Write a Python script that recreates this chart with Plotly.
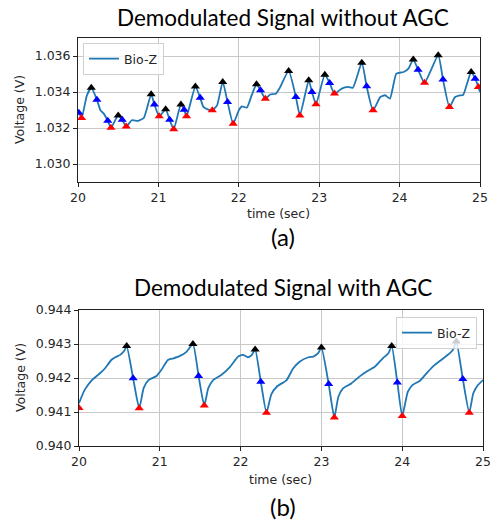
import plotly.graph_objects as go

# (a) without AGC - traced line
t_a = [20.00, 20.01, 20.045, 20.11, 20.165, 20.235, 20.28, 20.32, 20.37, 20.41, 20.50, 20.55, 20.60,
       20.67, 20.75, 20.82, 20.91, 20.95, 21.01, 21.09, 21.14, 21.19, 21.28, 21.32, 21.35, 21.46,
       21.52, 21.56, 21.62, 21.67, 21.73, 21.80, 21.86, 21.93, 22.00, 22.04, 22.10, 22.16, 22.22,
       22.27, 22.33, 22.39, 22.46, 22.51, 22.62, 22.71, 22.76, 22.87, 22.91, 22.96, 23.07, 23.13,
       23.19, 23.28, 23.36, 23.42, 23.53, 23.59, 23.67, 23.76, 23.82, 23.88, 23.96, 24.05, 24.11,
       24.17, 24.23, 24.31, 24.48, 24.54, 24.62, 24.69, 24.75, 24.79, 24.89, 24.94, 24.98, 25.00]
v_a = [1.0328, 1.03285, 1.03256, 1.0338, 1.03424, 1.03357, 1.03298, 1.0328, 1.0324, 1.03202, 1.0327,
       1.03246, 1.03209, 1.03243, 1.0324, 1.03257, 1.03387, 1.03331, 1.03265, 1.03304, 1.03246,
       1.03193, 1.03331, 1.03302, 1.03265, 1.0343, 1.03368, 1.03317, 1.03302, 1.03298, 1.03326,
       1.03456, 1.03344, 1.03224, 1.03298, 1.0332, 1.03313, 1.03381, 1.03443, 1.0341, 1.03363,
       1.03386, 1.0339, 1.03423, 1.03517, 1.03372, 1.0327, 1.03465, 1.034, 1.03332, 1.03496, 1.0345,
       1.03391, 1.03419, 1.03428, 1.03424, 1.03563, 1.03432, 1.03298, 1.03372, 1.03382, 1.03363,
       1.03502, 1.03511, 1.0353, 1.0358, 1.03524, 1.03452, 1.03604, 1.03469, 1.03317, 1.03372,
       1.03381, 1.03383, 1.03511, 1.03474, 1.03428, 1.0340]

peak_t_a = [20.165, 20.50, 20.91, 21.09, 21.28, 21.46, 21.80, 22.22, 22.62, 22.87, 23.07, 23.53, 24.17, 24.48, 24.89]
peak_v_a = [1.03424, 1.0327, 1.03387, 1.03304, 1.03331, 1.0343, 1.03456, 1.03443, 1.03517, 1.03465,
            1.03496, 1.03563, 1.0358, 1.03604, 1.03511]
mid_t_a = [20.01, 20.235, 20.37, 20.55, 20.95, 21.14, 21.32, 21.52, 21.86, 22.27, 22.71, 22.91, 23.13,
           23.59, 24.23, 24.54, 24.94]
mid_v_a = [1.03285, 1.03357, 1.0324, 1.03246, 1.03331, 1.03246, 1.03302, 1.03368, 1.03344, 1.0341,
           1.03372, 1.034, 1.0345, 1.03432, 1.03524, 1.03469, 1.03474]
trough_t_a = [20.045, 20.41, 20.60, 21.01, 21.19, 21.35, 21.67, 21.93, 22.33, 22.76, 22.96, 23.19,
              23.67, 24.31, 24.62, 24.98]
trough_v_a = [1.03256, 1.03202, 1.03209, 1.03265, 1.03193, 1.03265, 1.03298, 1.03224, 1.03363, 1.0327,
              1.03332, 1.03391, 1.03298, 1.03452, 1.03317, 1.03428]

# (b) with AGC - traced line
t_b = [20.00, 20.07, 20.16, 20.26, 20.32, 20.40, 20.45, 20.51, 20.56, 20.59, 20.67, 20.745, 20.80,
       20.86, 20.96, 21.02, 21.10, 21.17, 21.25, 21.33, 21.41, 21.48, 21.55, 21.60, 21.66, 21.76,
       21.87, 21.97, 22.03, 22.09, 22.14, 22.18, 22.25, 22.32, 22.38, 22.45, 22.57, 22.65, 22.73,
       22.84, 22.90, 22.96, 23.00, 23.09, 23.16, 23.21, 23.27, 23.37, 23.47, 23.56, 23.66, 23.76,
       23.83, 23.87, 23.94, 24.00, 24.07, 24.13, 24.22, 24.32, 24.40, 24.51, 24.59, 24.63, 24.67,
       24.75, 24.83, 24.88, 24.94, 25.00]
v_b = [0.94126, 0.94165, 0.94194, 0.94214, 0.94228, 0.94253, 0.94261, 0.94268, 0.9428, 0.94294,
       0.94199, 0.94111, 0.9417, 0.94194, 0.94206, 0.94224, 0.94253, 0.94258, 0.94265, 0.94277,
       0.943, 0.94206, 0.94119, 0.9417, 0.94194, 0.94209, 0.94233, 0.94263, 0.94268, 0.94261,
       0.94268, 0.94284, 0.94189, 0.94098, 0.94152, 0.94175, 0.94194, 0.94228, 0.94248, 0.94261,
       0.94263, 0.94273, 0.9429, 0.94182, 0.94084, 0.94145, 0.9417, 0.94184, 0.94204, 0.94219,
       0.94233, 0.94258, 0.94273, 0.94294, 0.94187, 0.94088, 0.9416, 0.9418, 0.94192, 0.94219,
       0.94238, 0.94258, 0.94273, 0.94284, 0.94307, 0.94197, 0.94098, 0.94155, 0.9418, 0.94194]

peak_t_b = [20.59, 21.41, 22.18, 23.00, 23.87, 24.67]
peak_v_b = [0.94294, 0.943, 0.94284, 0.9429, 0.94294, 0.94307]
mid_t_b = [20.67, 21.48, 22.25, 23.09, 23.94, 24.75]
mid_v_b = [0.94199, 0.94206, 0.94189, 0.94182, 0.94187, 0.94197]
trough_t_b = [20.00, 20.745, 21.55, 22.32, 23.16, 24.00, 24.83]
trough_v_b = [0.94112, 0.94111, 0.94119, 0.94098, 0.94084, 0.94088, 0.94098]

W, H = 490, 521
tick_font = dict(family="DejaVu Sans", size=12.5, color="#262626")
title_font = dict(family="Lato", size=22.5, color="black")

fig = go.Figure()


def add_panel(fig, t, v, pk_t, pk_v, md_t, md_v, tr_t, tr_v, xa, ya, legend):
    fig.add_trace(go.Scatter(x=t, y=v, mode="lines", name="Bio-Z",
                             line=dict(color="#1f77b4", width=1.8, shape="spline", smoothing=0.5),
                             xaxis=xa, yaxis=ya, legend=legend))
    for xs, ys, col in [(pk_t, pk_v, "black"), (md_t, md_v, "blue"), (tr_t, tr_v, "red")]:
        fig.add_trace(go.Scatter(x=xs, y=ys, mode="markers", showlegend=False,
                                 marker=dict(symbol="triangle-up", size=8, color=col),
                                 xaxis=xa, yaxis=ya))


add_panel(fig, t_a, v_a, peak_t_a, peak_v_a, mid_t_a, mid_v_a, trough_t_a, trough_v_a, "x", "y", "legend")
add_panel(fig, t_b, v_b, peak_t_b, peak_v_b, mid_t_b, mid_v_b, trough_t_b, trough_v_b, "x2", "y2", "legend2")

axis_style = dict(showline=True, mirror=True, linecolor="#222", linewidth=1, showgrid=True,
                  gridcolor="#c8c8c8", gridwidth=1, ticks="outside", ticklen=4, tickcolor="#222",
                  tickfont=tick_font, zeroline=False, automargin=False, ticklabeloverflow="allow")

fig.update_layout(
    width=W, height=H,
    margin=dict(l=0, r=0, t=0, b=0),
    paper_bgcolor="white", plot_bgcolor="white",
    xaxis=dict(domain=[78 / W, 480 / W], range=[20, 25], dtick=1, anchor="y", **axis_style),
    yaxis=dict(domain=[1 - 182 / H, 1 - 38 / H], range=[1.029, 1.037], tickvals=[1.030, 1.032, 1.034, 1.036],
               tickformat=".3f", anchor="x", **axis_style),
    xaxis2=dict(domain=[79 / W, 483 / W], range=[20, 25], dtick=1, anchor="y2", **axis_style),
    yaxis2=dict(domain=[1 - 446 / H, 1 - 310 / H], range=[0.940, 0.944], dtick=0.001,
                tickformat=".3f", anchor="x2", **axis_style),
    legend=dict(x=83 / W, y=1 - 43 / H, xanchor="left", yanchor="top", bgcolor="rgba(255,255,255,0.8)",
                bordercolor="#d0d0d0", borderwidth=1, font=tick_font),
    legend2=dict(x=477 / W, y=1 - 317 / H, xanchor="right", yanchor="top", bgcolor="rgba(255,255,255,0.8)",
                 bordercolor="#d0d0d0", borderwidth=1, font=tick_font),
    annotations=[
        dict(text="Demodulated Signal without AGC", x=283 / W, y=1 - 18 / H, font=title_font),
        dict(text="(a)", x=283 / W, y=1 - 237 / H, font=dict(family="Lato", size=24, color="black")),
        dict(text="time (sec)", x=278 / W, y=1 - 213 / H, font=tick_font),
        dict(text="Voltage (V)", x=20 / W, y=1 - 110 / H, textangle=-90, font=tick_font),
        dict(text="Demodulated Signal with AGC", x=283 / W, y=1 - 287 / H, font=title_font),
        dict(text="(b)", x=283 / W, y=1 - 506 / H, font=dict(family="Lato", size=24, color="black")),
        dict(text="time (sec)", x=280 / W, y=1 - 479 / H, font=tick_font),
        dict(text="Voltage (V)", x=20 / W, y=1 - 378 / H, textangle=-90, font=tick_font),
    ],
)
for a in fig.layout.annotations:
    a.update(xref="paper", yref="paper", showarrow=False, xanchor="center", yanchor="middle")

# the page's default body margin would shift the figure by 8px
fig.write_html("out.html", config={"displayModeBar": False},
               post_script="document.body.style.margin='0';")
